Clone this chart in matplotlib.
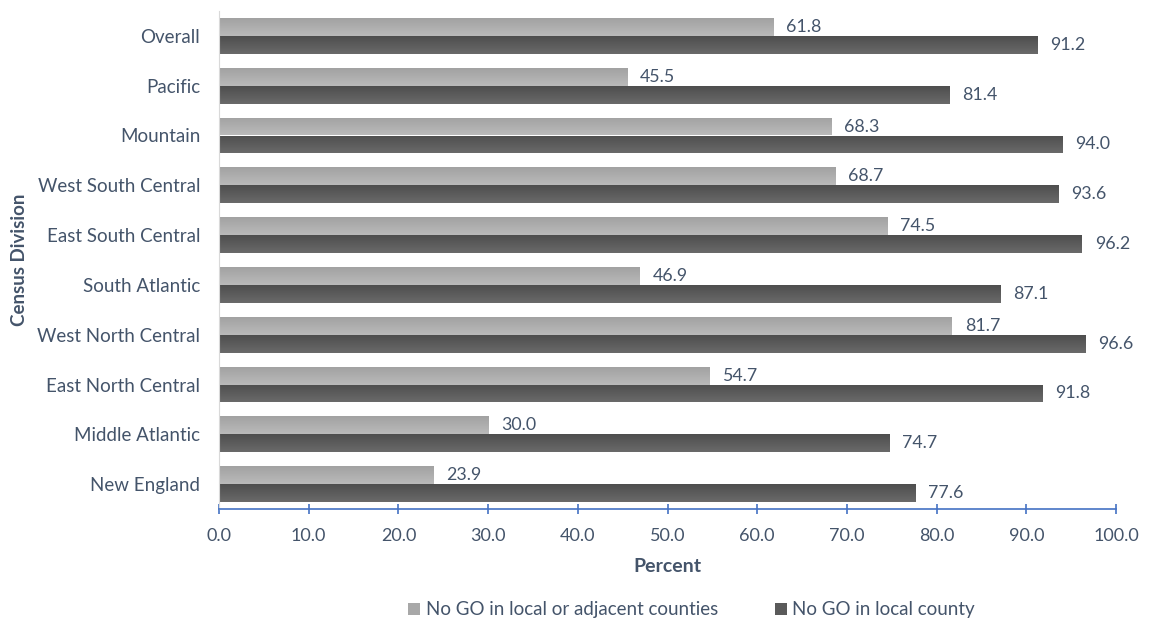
import matplotlib
matplotlib.use("Agg")
import matplotlib.pyplot as plt
import numpy as np
from matplotlib.patches import Patch
from matplotlib.colors import LinearSegmentedColormap

categories = ["Overall", "Pacific", "Mountain", "West South Central", "East South Central",
              "South Atlantic", "West North Central", "East North Central", "Middle Atlantic",
              "New England"]
adjacent = [61.8, 45.5, 68.3, 68.7, 74.5, 46.9, 81.7, 54.7, 30.0, 23.9]
local = [91.2, 81.4, 94.0, 93.6, 96.2, 87.1, 96.6, 91.8, 74.7, 77.6]
series_names = ["No GO in local or adjacent counties", "No GO in local county"]
xticks = [0, 10, 20, 30, 40, 50, 60, 70, 80, 90, 100]

plt.rcParams['font.family'] = ['Lato', 'DejaVu Sans']
txt = "#44546a"

fig = plt.figure(figsize=(11.53, 6.26), dpi=100)
ax = fig.add_axes([219/1153, 1-509/626, (1116-219)/1153, (509-11)/626])

n = len(categories)
y = np.arange(n)
h = 0.36
light_cmap = LinearSegmentedColormap.from_list("l", ["#bababa", "#a2a2a2"])
dark_cmap = LinearSegmentedColormap.from_list("d", ["#6a6a6a", "#4e4e4e"])

b1 = ax.barh(y - h/2, adjacent, height=h, color="#aeaeae")
b2 = ax.barh(y + h/2, local, height=h, color="#5c5c5c")

grad = np.linspace(0, 1, 64).reshape(-1, 1)
for bars, cmap in ((b1, light_cmap), (b2, dark_cmap)):
    for p in bars:
        x0, y0 = p.get_x(), p.get_y()
        w, hh = p.get_width(), p.get_height()
        im = ax.imshow(grad, cmap=cmap, aspect="auto",
                       extent=(x0, x0 + w, y0, y0 + hh), origin="upper", zorder=2)
        im.set_clip_path(p)
        p.set_alpha(0)

for vals, off in ((adjacent, -h/2), (local, h/2)):
    for i, v in enumerate(vals):
        ax.annotate(f"{v:.1f}", (v, i + off), xytext=(9.2, 0), textcoords="offset points",
                    va="center", ha="left", fontsize=12.8, color=txt)

ax.set_xlim(0, 100)
ax.set_ylim(n - 0.5, -0.5)
ax.set_yticks(y)
ax.set_yticklabels(categories, fontsize=13.5, color=txt)
ax.set_xticks(xticks)
ax.set_xticklabels([f"{t:.1f}" for t in xticks], fontsize=13, color=txt)
ax.tick_params(axis="y", length=0, pad=13.5)
ax.tick_params(axis="x", direction="inout", length=7, width=1.2, color="#4472c4", pad=10)

for s in ("top", "right"):
    ax.spines[s].set_visible(False)
ax.spines["left"].set_color("#d9d9d9")
ax.spines["bottom"].set_color("#4472c4")
ax.spines["bottom"].set_linewidth(1.2)

ax.set_xlabel("Percent", fontsize=14, fontweight="bold", color=txt, labelpad=10)
ax.set_ylabel("Census Division", fontsize=13.5, fontweight="bold", color=txt, labelpad=7)

handles = [Patch(facecolor="#a8a8a8"), Patch(facecolor="#5a5a5a")]
fig.legend(handles, series_names, loc="center", bbox_to_anchor=(0.5998, 1-610/626), ncol=2,
           frameon=False, fontsize=13.5, labelcolor=txt, handlelength=0.64, handleheight=0.64,
           handletextpad=0.3, columnspacing=3.0)

fig.savefig("out.png", dpi=100)
